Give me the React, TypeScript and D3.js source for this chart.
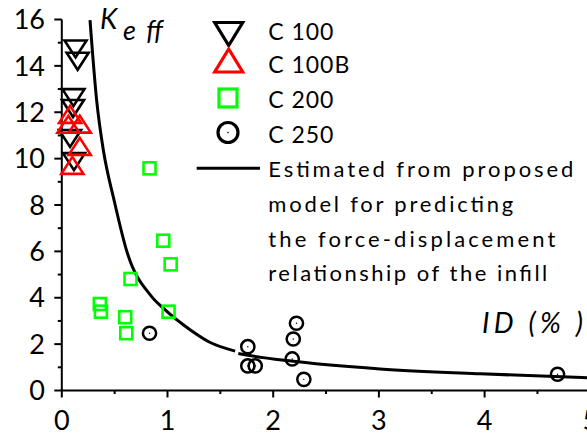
import React from 'react';
import * as d3 from 'd3';

// ---- data ----
const xTickValues = [0, 1, 2, 3, 4, 5];
const yTickValues = [0, 2, 4, 6, 8, 10, 12, 14, 16];
const xMinorTicks = [0.5, 1.5, 2.5, 3.5, 4.5];
const yMinorTicks = [1, 3, 5, 7, 9, 11, 13, 15];

const c100ID = [0.13, 0.15, 0.11, 0.106, 0.078, 0.115];
const c100K = [14.73, 14.2, 12.63, 12.16, 10.87, 9.87];

const c100bID = [0.078, 0.062, 0.17, 0.17, 0.1];
const c100bK = [11.91, 11.48, 11.49, 10.53, 9.71];

const c200ID = [0.83, 0.96, 1.03, 0.65, 0.36, 0.37, 0.6, 0.61, 1.01];
const c200K = [9.58, 6.46, 5.44, 4.81, 3.73, 3.4, 3.16, 2.47, 3.4];

const c250ID = [0.83, 1.76, 1.76, 1.83, 2.22, 2.19, 2.18, 2.29, 4.69];
const c250K = [2.47, 1.89, 1.06, 1.06, 2.9, 2.22, 1.36, 0.48, 0.7];

// estimated model curve (two traced pieces)
const modelAID = [0.267, 0.33, 0.393, 0.495, 0.614, 0.85, 0.96, 1.22, 1.4, 1.64];
const modelAK = [15.97, 12.5, 10.37, 8.2, 6.02, 4.05, 3.55, 2.6, 2.08, 1.7];
const modelBID = [1.67, 1.78, 2.13, 3.01, 3.96, 5.0];
const modelBK = [1.6, 1.51, 1.29, 0.93, 0.72, 0.55];

const legendLabels = ['C 100', 'C 100B', 'C 200', 'C 250'];
const modelLabelLines = [
  'Estimated from proposed',
  'model for predicting',
  'the force-displacement',
  'relationship of the infill',
];

const FONT = 'Lato, "Open Sans", sans-serif';

const x = d3.scaleLinear().domain([0, 5]).range([61.8, 590.3]);
const y = d3.scaleLinear().domain([0, 16]).range([390.5, 19.5]);

function triPath(cx: number, cy: number, w: number, h: number, down: boolean) {
  const p = d3.path();
  if (down) {
    p.moveTo(cx - w / 2, cy - h / 2);
    p.lineTo(cx + w / 2, cy - h / 2);
    p.lineTo(cx, cy + h / 2);
  } else {
    p.moveTo(cx - w / 2, cy + h / 2);
    p.lineTo(cx + w / 2, cy + h / 2);
    p.lineTo(cx, cy - h / 2);
  }
  p.closePath();
  return p.toString();
}

export default function App() {
  const line = d3
    .line<[number, number]>()
    .x((d) => x(d[0]))
    .y((d) => y(d[1]))
    .curve(d3.curveMonotoneX);
  const modelA = modelAID.map((v, i) => [v, modelAK[i]] as [number, number]);
  const modelB = modelBID.map((v, i) => [v, modelBK[i]] as [number, number]);

  const legendY = [34, 60.5, 98, 132.5];
  const legendTextY = [40, 72.7, 108.3, 142.7];
  const legendTextW = [65, 81, 65, 65];
  const modelLineY = [177, 212, 246.5, 280.5];
  const modelLineW = [305, 245, 287, 279];

  return (
    <svg
      width={587}
      height={436}
      style={{ position: 'absolute', left: 0, top: 0, background: '#fff' }}
      fontFamily={FONT}
    >
      <rect x={0} y={0} width={587} height={436} fill="#fff" />
      {/* axes */}
      <line x1={x(0)} x2={587} y1={y(0)} y2={y(0)} stroke="#000" strokeWidth={2} />
      <line x1={x(0)} x2={x(0)} y1={y(0)} y2={y(16)} stroke="#000" strokeWidth={2} />
      {yTickValues.map((v) => (
        <g key={'yt' + v}>
          <line x1={x(0) - 7.5} x2={x(0)} y1={y(v)} y2={y(v)} stroke="#000" strokeWidth={2} />
          <text x={45} y={y(v)} dy="0.36em" textAnchor="end" fontSize={27} fill="#000">
            {v}
          </text>
        </g>
      ))}
      {yMinorTicks.map((v) => (
        <line key={'ym' + v} x1={x(0) - 4} x2={x(0)} y1={y(v)} y2={y(v)} stroke="#000" strokeWidth={2} />
      ))}
      {xTickValues.map((v) => (
        <g key={'xt' + v}>
          <line x1={x(v)} x2={x(v)} y1={y(0)} y2={y(0) + 7} stroke="#000" strokeWidth={2} />
          <text x={x(v)} y={430} textAnchor="middle" fontSize={27} fill="#000">
            {v}
          </text>
        </g>
      ))}
      {xMinorTicks.map((v) => (
        <line key={'xm' + v} x1={x(v)} x2={x(v)} y1={y(0)} y2={y(0) + 3.5} stroke="#000" strokeWidth={2} />
      ))}

      {/* axis titles */}
      <text x={100} y={29} fontSize={28} fontStyle="italic" fill="#000">K</text>
      <text x={123} y={40} fontSize={27} fontStyle="italic" fill="#000" textLength={40} lengthAdjust="spacing">eff</text>
      <text x={482} y={333} fontSize={28} fontStyle="italic" fill="#000" textLength={101} lengthAdjust="spacing">ID (% )</text>

      {/* model curve */}
      <path d={line(modelA) || ''} fill="none" stroke="#000" strokeWidth={3} />
      <path d={line(modelB) || ''} fill="none" stroke="#000" strokeWidth={3} />

      {/* C200 squares */}
      {c200ID.map((v, i) => (
        <rect key={'s' + i} x={x(v) - 6} y={y(c200K[i]) - 6} width={12} height={12} fill="none" stroke="#00ff00" strokeWidth={2.6} />
      ))}
      {/* C250 circles */}
      {c250ID.map((v, i) => (
        <g key={'c' + i}>
          <circle cx={x(v)} cy={y(c250K[i])} r={6.6} fill="none" stroke="#000" strokeWidth={2.5} />
          <circle cx={x(v)} cy={y(c250K[i])} r={0.7} fill="#000" />
        </g>
      ))}
      {/* C100 down triangles */}
      {c100ID.map((v, i) => (
        <path key={'d' + i} d={triPath(x(v), y(c100K[i]), 22, 17, true)} fill="none" stroke="#000" strokeWidth={2.6} strokeLinejoin="miter" />
      ))}
      {/* C100B up triangles */}
      {c100bID.map((v, i) => (
        <path key={'u' + i} d={triPath(x(v), y(c100bK[i]), 22, 17, false)} fill="none" stroke="#ff0000" strokeWidth={2.6} strokeLinejoin="miter" />
      ))}

      {/* legend */}
      <path d={triPath(228.7, legendY[0], 28, 23, true)} fill="none" stroke="#000" strokeWidth={3.2} />
      <path d={triPath(228.7, legendY[1], 28, 23, false)} fill="none" stroke="#ff0000" strokeWidth={3.2} />
      <rect x={228 - 9} y={legendY[2] - 9} width={18} height={18} fill="none" stroke="#00ff00" strokeWidth={3.2} />
      <circle cx={228} cy={legendY[3]} r={10} fill="none" stroke="#000" strokeWidth={3.2} />
      <circle cx={228} cy={legendY[3]} r={0.8} fill="#000" />
      {legendLabels.map((t, i) => (
        <text key={'lt' + i} x={268.3} y={legendTextY[i]} fontSize={23} fill="#000" textLength={legendTextW[i]} lengthAdjust="spacing">
          {t}
        </text>
      ))}
      <line x1={196.7} x2={260} y1={168.3} y2={168.3} stroke="#000" strokeWidth={3} />
      {modelLabelLines.map((t, i) => (
        <text key={'ml' + i} x={268.3} y={modelLineY[i]} fontSize={22} fill="#000" textLength={modelLineW[i]} lengthAdjust="spacing">
          {t}
        </text>
      ))}
    </svg>
  );
}
